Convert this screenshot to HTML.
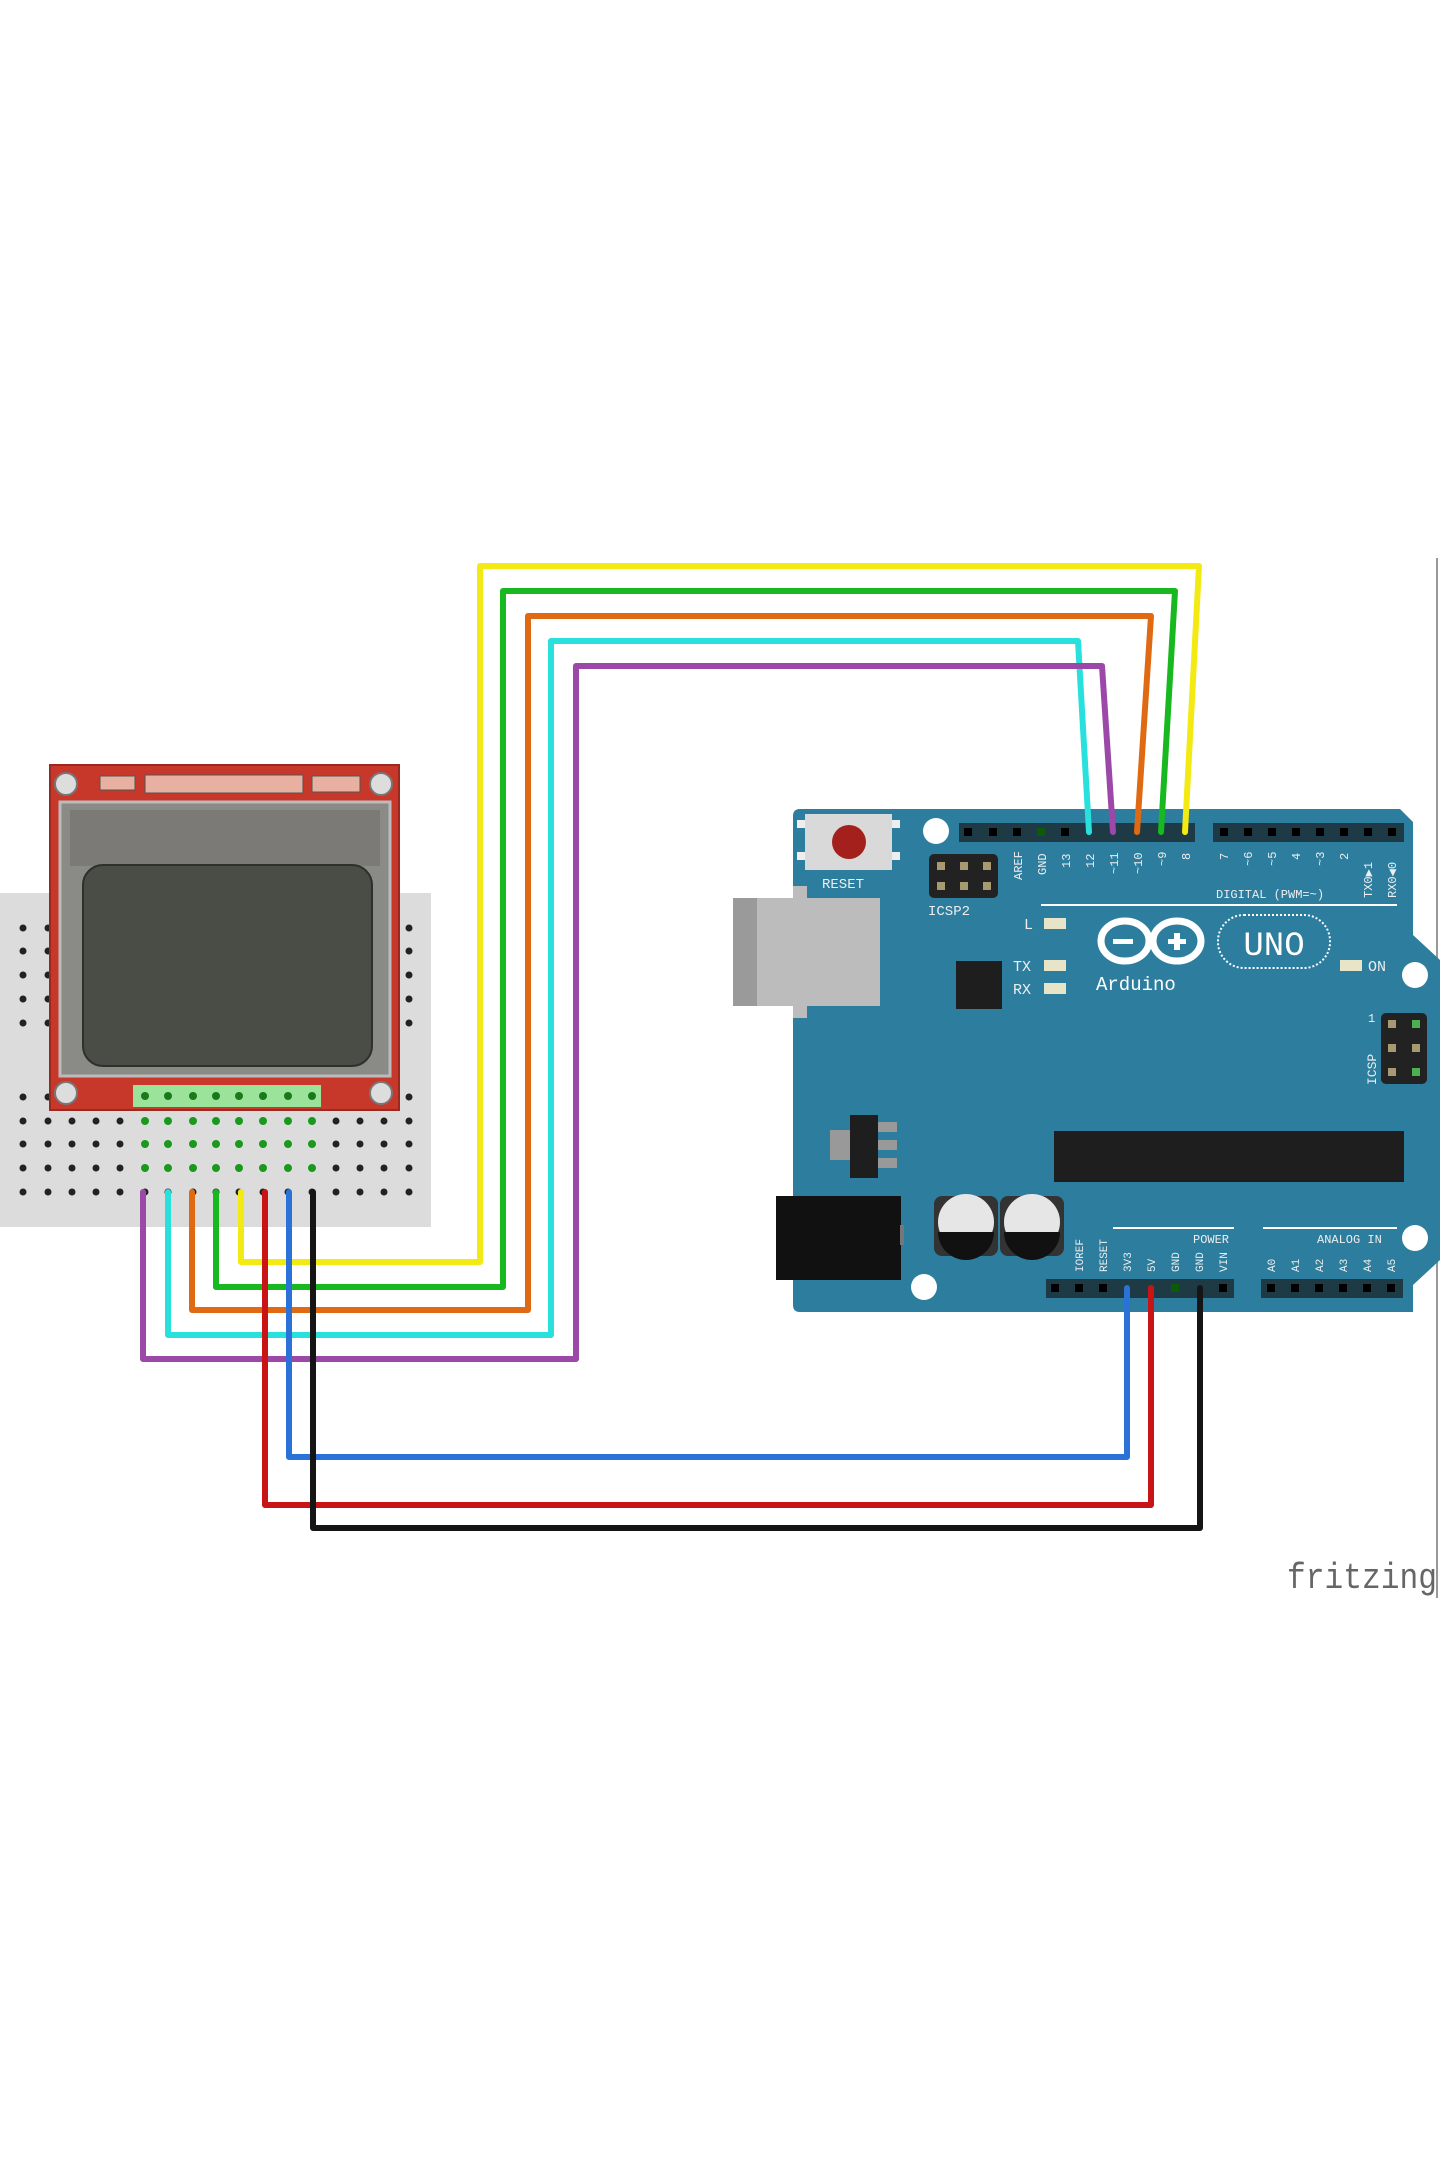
<!DOCTYPE html>
<html><head><meta charset="utf-8"><style>html,body{margin:0;padding:0;background:#fff}svg{display:block}text{font-family:"Liberation Mono",monospace}</style></head>
<body>
<svg width="1440" height="2160" viewBox="0 0 1440 2160" xmlns="http://www.w3.org/2000/svg">
<defs>
<g id="r1">
<circle cx="23" cy="0" r="3.5"/><circle cx="48" cy="0" r="3.5"/><circle cx="72" cy="0" r="3.5"/><circle cx="96" cy="0" r="3.5"/><circle cx="120" cy="0" r="3.5"/><circle cx="145" cy="0" r="3.5"/><circle cx="168" cy="0" r="3.5"/><circle cx="193" cy="0" r="3.5"/><circle cx="216" cy="0" r="3.5"/><circle cx="239" cy="0" r="3.5"/><circle cx="263" cy="0" r="3.5"/><circle cx="288" cy="0" r="3.5"/><circle cx="312" cy="0" r="3.5"/><circle cx="336" cy="0" r="3.5"/><circle cx="360" cy="0" r="3.5"/><circle cx="384" cy="0" r="3.5"/><circle cx="409" cy="0" r="3.5"/>
</g>
<g id="g1"><circle cx="145" cy="0" r="4"/><circle cx="168" cy="0" r="4"/><circle cx="193" cy="0" r="4"/><circle cx="216" cy="0" r="4"/><circle cx="239" cy="0" r="4"/><circle cx="263" cy="0" r="4"/><circle cx="288" cy="0" r="4"/><circle cx="312" cy="0" r="4"/></g>
</defs>
<rect width="1440" height="2160" fill="#fff"/>
<line x1="1437" y1="558" x2="1437" y2="1598" stroke="#999" stroke-width="2"/>
<!-- breadboard -->
<rect x="0" y="893" width="431" height="334" fill="#dcdcdc"/>
<g fill="#222">
<use href="#r1" y="928"/><use href="#r1" y="951"/><use href="#r1" y="975"/><use href="#r1" y="999"/><use href="#r1" y="1023"/>
<use href="#r1" y="1097"/><use href="#r1" y="1121"/><use href="#r1" y="1144"/><use href="#r1" y="1168"/><use href="#r1" y="1192"/>
</g>
<g fill="#1a9a1a">
<use href="#g1" y="1121"/><use href="#g1" y="1144"/><use href="#g1" y="1168"/>
</g>
<!-- LCD -->
<rect x="50" y="765" width="349" height="345" fill="#c8382a" stroke="#9a2a20" stroke-width="2"/>
<circle cx="66" cy="784" r="11" fill="#ddd" stroke="#777" stroke-width="2"/>
<circle cx="381" cy="784" r="11" fill="#ddd" stroke="#777" stroke-width="2"/>
<circle cx="66" cy="1093" r="11" fill="#ddd" stroke="#777" stroke-width="2"/>
<circle cx="381" cy="1093" r="11" fill="#ddd" stroke="#777" stroke-width="2"/>
<rect x="145" y="775" width="158" height="18" fill="#e8b0a0" stroke="#555"/>
<rect x="100" y="776" width="35" height="14" fill="#e8b0a0" stroke="#555"/>
<rect x="312" y="776" width="48" height="16" fill="#e8b0a0" stroke="#555"/>
<rect x="60" y="802" width="330" height="274" fill="#8a8a86" stroke="#bbb" stroke-width="3"/>
<rect x="70" y="810" width="310" height="56" fill="#7b7a76"/>
<rect x="83" y="865" width="289" height="201" rx="20" fill="#4a4d46" stroke="#2d302b" stroke-width="2"/>
<rect x="133" y="1085" width="188" height="22" fill="#9be39b"/>
<g fill="#1a7a1a"><circle cx="145" cy="1096" r="4"/><circle cx="168" cy="1096" r="4"/><circle cx="193" cy="1096" r="4"/><circle cx="216" cy="1096" r="4"/><circle cx="239" cy="1096" r="4"/><circle cx="263" cy="1096" r="4"/><circle cx="288" cy="1096" r="4"/><circle cx="312" cy="1096" r="4"/></g>
<!-- Arduino board -->
<path d="M800 809 H1400 L1413 822 V935 L1440 960 V1260 L1413 1285 V1312 H800 Q793 1312 793 1305 V816 Q793 809 800 809 Z" fill="#2c7d9e"/>
<rect x="733" y="898" width="147" height="108" fill="#bcbcbc"/>
<rect x="733" y="898" width="24" height="108" fill="#9a9a9a"/>
<rect x="793" y="886" width="14" height="132" fill="#bcbcbc"/>
<rect x="805" y="814" width="87" height="56" fill="#d9d9d9"/>
<rect x="797" y="820" width="8" height="8" fill="#eee"/><rect x="797" y="852" width="8" height="8" fill="#eee"/><rect x="892" y="820" width="8" height="8" fill="#eee"/><rect x="892" y="852" width="8" height="8" fill="#eee"/>
<circle cx="849" cy="842" r="17" fill="#a3201c"/>
<text x="822" y="888" font-size="14" fill="#eee">RESET</text>
<circle cx="936" cy="831" r="13" fill="#fff"/><circle cx="924" cy="1287" r="13" fill="#fff"/><circle cx="1415" cy="975" r="13" fill="#fff"/><circle cx="1415" cy="1238" r="13" fill="#fff"/>
<rect x="929" y="854" width="69" height="44" rx="5" fill="#222"/>
<g fill="#a89a70"><rect x="937" y="862" width="8" height="8"/><rect x="960" y="862" width="8" height="8"/><rect x="983" y="862" width="8" height="8"/><rect x="937" y="882" width="8" height="8"/><rect x="960" y="882" width="8" height="8"/><rect x="983" y="882" width="8" height="8"/></g>
<text x="928" y="915" font-size="14" fill="#eee">ICSP2</text>
<rect x="959" y="823" width="236" height="19" fill="#1e3a44"/>
<rect x="1213" y="823" width="191" height="19" fill="#1e3a44"/>
<g fill="#000"><rect x="964" y="828" width="8" height="8"/><rect x="989" y="828" width="8" height="8"/><rect x="1013" y="828" width="8" height="8"/><rect x="1061" y="828" width="8" height="8"/>
<rect x="1220" y="828" width="8" height="8"/><rect x="1244" y="828" width="8" height="8"/><rect x="1268" y="828" width="8" height="8"/><rect x="1292" y="828" width="8" height="8"/><rect x="1316" y="828" width="8" height="8"/><rect x="1340" y="828" width="8" height="8"/><rect x="1364" y="828" width="8" height="8"/><rect x="1388" y="828" width="8" height="8"/></g>
<rect x="1037" y="828" width="8" height="8" fill="#0a5a0a"/>
<g font-size="12" fill="#eee">
<text transform="translate(1022,880) rotate(-90)">AREF</text>
<text transform="translate(1046,875) rotate(-90)">GND</text>
<text transform="translate(1070,868) rotate(-90)">13</text>
<text transform="translate(1094,868) rotate(-90)">12</text>
<text transform="translate(1118,874) rotate(-90)">~11</text>
<text transform="translate(1142,874) rotate(-90)">~10</text>
<text transform="translate(1166,866) rotate(-90)">~9</text>
<text transform="translate(1190,860) rotate(-90)">8</text>
<text transform="translate(1228,860) rotate(-90)">7</text>
<text transform="translate(1252,866) rotate(-90)">~6</text>
<text transform="translate(1276,866) rotate(-90)">~5</text>
<text transform="translate(1300,860) rotate(-90)">4</text>
<text transform="translate(1324,866) rotate(-90)">~3</text>
<text transform="translate(1348,860) rotate(-90)">2</text>
<text transform="translate(1372,898) rotate(-90)">TX0▶1</text>
<text transform="translate(1396,898) rotate(-90)">RX0◀0</text>
</g>
<text x="1216" y="898" font-size="12" fill="#eee">DIGITAL (PWM=~)</text>
<line x1="1041" y1="905" x2="1397" y2="905" stroke="#fff" stroke-width="2"/>
<g font-size="15" fill="#eee"><text x="1024" y="929">L</text><text x="1013" y="971">TX</text><text x="1013" y="994">RX</text><text x="1368" y="971">ON</text></g>
<g fill="#e8e4c8"><rect x="1044" y="918" width="22" height="11"/><rect x="1044" y="960" width="22" height="11"/><rect x="1044" y="983" width="22" height="11"/><rect x="1340" y="960" width="22" height="11"/></g>
<rect x="956" y="961" width="46" height="48" fill="#1e1e1e"/>
<!-- logo -->
<g fill="none" stroke="#fff" stroke-width="7"><ellipse cx="1125" cy="941" rx="24" ry="20"/><ellipse cx="1177" cy="941" rx="24" ry="20"/></g>
<rect x="1113" y="939" width="20" height="5" fill="#fff"/><rect x="1168" y="939" width="18" height="5" fill="#fff"/><rect x="1174" y="933" width="6" height="17" fill="#fff"/>
<rect x="1218" y="915" width="112" height="53" rx="26" fill="none" stroke="#fff" stroke-width="2" stroke-dasharray="2 2"/>
<text x="1274" y="955" font-size="34" fill="#fff" text-anchor="middle" font-family="Liberation Sans, sans-serif">UNO</text>
<text x="1096" y="990" font-size="19" fill="#fff">Arduino</text>
<rect x="1381" y="1013" width="46" height="71" rx="5" fill="#222"/>
<g fill="#a89a70"><rect x="1388" y="1020" width="8" height="8"/><rect x="1388" y="1044" width="8" height="8"/><rect x="1388" y="1068" width="8" height="8"/><rect x="1412" y="1044" width="8" height="8"/></g>
<g fill="#4caf50"><rect x="1412" y="1020" width="8" height="8"/><rect x="1412" y="1068" width="8" height="8"/></g>
<text x="1368" y="1022" font-size="12" fill="#eee">1</text>
<text transform="translate(1376,1085) rotate(-90)" font-size="13" fill="#eee">ICSP</text>
<rect x="830" y="1130" width="20" height="30" fill="#999"/>
<rect x="850" y="1115" width="28" height="63" fill="#1e1e1e"/>
<rect x="878" y="1122" width="19" height="10" fill="#999"/><rect x="878" y="1140" width="19" height="10" fill="#999"/><rect x="878" y="1158" width="19" height="10" fill="#999"/>
<rect x="1054" y="1131" width="350" height="51" fill="#1e1e1e"/>
<rect x="776" y="1196" width="125" height="84" fill="#111"/>
<rect x="900" y="1225" width="4" height="20" fill="#777"/>
<g><rect x="934" y="1196" width="64" height="60" rx="8" fill="#333"/><circle cx="966" cy="1222" r="28" fill="#e6e6e6"/><path d="M938 1232 A28 28 0 0 0 994 1232 Z" fill="#111"/>
<rect x="1000" y="1196" width="64" height="60" rx="8" fill="#333"/><circle cx="1032" cy="1222" r="28" fill="#e6e6e6"/><path d="M1004 1232 A28 28 0 0 0 1060 1232 Z" fill="#111"/></g>
<rect x="1046" y="1279" width="188" height="19" fill="#1e3a44"/>
<rect x="1261" y="1279" width="142" height="19" fill="#1e3a44"/>
<g fill="#000"><rect x="1051" y="1284" width="8" height="8"/><rect x="1075" y="1284" width="8" height="8"/><rect x="1099" y="1284" width="8" height="8"/><rect x="1219" y="1284" width="8" height="8"/>
<rect x="1267" y="1284" width="8" height="8"/><rect x="1291" y="1284" width="8" height="8"/><rect x="1315" y="1284" width="8" height="8"/><rect x="1339" y="1284" width="8" height="8"/><rect x="1363" y="1284" width="8" height="8"/><rect x="1387" y="1284" width="8" height="8"/></g>
<rect x="1171" y="1284" width="8" height="8" fill="#0a5a0a"/>
<line x1="1113" y1="1228" x2="1234" y2="1228" stroke="#fff" stroke-width="2"/>
<line x1="1263" y1="1228" x2="1397" y2="1228" stroke="#fff" stroke-width="2"/>
<text x="1193" y="1243" font-size="12" fill="#eee">POWER</text>
<text x="1317" y="1243" font-size="12" fill="#eee">ANALOG IN</text>
<g font-size="11" fill="#eee">
<text transform="translate(1083,1272) rotate(-90)">IOREF</text>
<text transform="translate(1107,1272) rotate(-90)">RESET</text>
<text transform="translate(1131,1272) rotate(-90)">3V3</text>
<text transform="translate(1155,1272) rotate(-90)">5V</text>
<text transform="translate(1179,1272) rotate(-90)">GND</text>
<text transform="translate(1203,1272) rotate(-90)">GND</text>
<text transform="translate(1227,1272) rotate(-90)">VIN</text>
<text transform="translate(1275,1272) rotate(-90)">A0</text>
<text transform="translate(1299,1272) rotate(-90)">A1</text>
<text transform="translate(1323,1272) rotate(-90)">A2</text>
<text transform="translate(1347,1272) rotate(-90)">A3</text>
<text transform="translate(1371,1272) rotate(-90)">A4</text>
<text transform="translate(1395,1272) rotate(-90)">A5</text>
</g>
<!-- wires -->
<g fill="none" stroke-width="6" stroke-linejoin="round" stroke-linecap="round">
<polyline stroke="#f2ea12" points="241,1192 241,1262 480,1262 480,566 1199,566 1185,832"/>
<polyline stroke="#18b820" points="216,1192 216,1287 503,1287 503,591 1175,591 1161,832"/>
<polyline stroke="#e06a14" points="192,1192 192,1310 528,1310 528,616 1151,616 1137,832"/>
<polyline stroke="#28e0dc" points="168,1192 168,1335 551,1335 551,641 1078,641 1089,832"/>
<polyline stroke="#9b48a8" points="143,1192 143,1359 576,1359 576,666 1102,666 1113,832"/>
<polyline stroke="#c81414" points="265,1192 265,1505 1151,1505 1151,1288"/>
<polyline stroke="#2a72d8" points="289,1192 289,1457 1127,1457 1127,1288"/>
<polyline stroke="#151515" points="313,1192 313,1528 1200,1528 1200,1288"/>
</g>
<text x="1287" y="1588" font-size="36" fill="#666" font-family="Liberation Sans, sans-serif" textLength="150" lengthAdjust="spacingAndGlyphs">fritzing</text>
</svg>
</body></html>
